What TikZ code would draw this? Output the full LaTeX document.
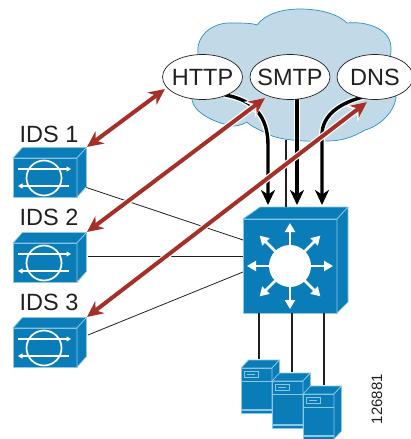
\documentclass[tikz,border=0pt]{standalone}
\usepackage{fontspec}
\setmainfont{Liberation Sans}
\usetikzlibrary{arrows.meta,shapes.geometric}
\definecolor{cisco}{HTML}{0A7DB8}
\definecolor{edgeblue}{HTML}{8CC8E6}
\definecolor{cloudfill}{HTML}{C2D9E7}
\definecolor{cloudline}{HTML}{2A92C6}
\definecolor{brick}{HTML}{A5302A}
\definecolor{ink}{HTML}{231F20}
\tikzset{
  x=1pt,y=-1pt,
  label/.style={font=\fontsize{23.5}{24}\selectfont,text=ink,inner sep=0pt},
  proto/.style={draw=ink,fill=white,ellipse,line width=.7pt,minimum width=80pt,minimum height=45pt,inner sep=-12pt,font=\fontsize{23.5}{24}\selectfont,text=ink},
  face/.style={fill=cisco,draw=edgeblue,line width=.7pt,line join=round},
  thinwire/.style={draw=ink,line width=.8pt},
  wire/.style={draw=ink,line width=1.8pt},
  halo/.style={draw=white,line width=6pt},
  bigblack/.style={draw=black,line width=3.4pt,-{Stealth[length=15pt,width=14pt,inset=4.5pt]}},
  redhalo/.style={draw=white,line width=6.5pt,{Stealth[length=19pt,width=19pt,inset=5pt]}-{Stealth[length=19pt,width=19pt,inset=5pt]}},
  redarrow/.style={draw=brick,line width=4pt,{Stealth[length=16pt,width=15pt,inset=5pt]}-{Stealth[length=16pt,width=15pt,inset=5pt]}},
  whiteline/.style={draw=white,line width=1.4pt},
  ar/.style={draw=white,line width=2.8pt,-{Triangle[length=9pt,width=10pt]}},
}
\newcommand{\idsbox}[3]{% name, x, y (front top-left)
  \node[face,anchor=north west,minimum width=64pt,minimum height=39pt,inner sep=0pt] (#1) at (#2,#3) {};
  \fill[cisco,draw=edgeblue,line width=.7pt,line join=round] (#2,#3) -- ++(9.5,-10.5) -- ++(64,0) -- ++(-9.5,10.5) -- cycle;
  \fill[cisco,draw=edgeblue,line width=.7pt,line join=round] (#2+64,#3) -- ++(9.5,-10.5) -- ++(0,39) -- ++(-9.5,10.5) -- cycle;
  \draw[draw=white,line width=1.7pt] (#2+31,#3+20) circle[radius=17.5pt];
  \draw[whiteline,-{Triangle[length=4.5pt,width=5pt]}] (#2+5,#3+11) -- (#2+58,#3+11);
  \draw[whiteline,-{Triangle[length=4.5pt,width=5pt]}] (#2+56,#3+28) -- (#2+5,#3+28);
}
\newcommand{\serverbox}[5]{% name x y w h
  \node[face,anchor=north west,minimum width=#4pt,minimum height=#5pt,inner sep=0pt] (#1) at (#2,#3) {};
  \fill[cisco,draw=edgeblue,line width=.7pt,line join=round] (#2,#3) -- ++(7.5,-8) -- ++(#4,0) -- ++(-7.5,8) -- cycle;
  \fill[cisco,draw=edgeblue,line width=.7pt,line join=round] (#2+#4,#3) -- ++(7.5,-8) -- ++(0,#5) -- ++(-7.5,8) -- cycle;
  \draw[draw=edgeblue,line width=1pt] (#2,#3+13) -- ++(#4,0);
  \draw[draw=edgeblue,line width=1.4pt] (#2,#3+#5-3) -- ++(#4,0);
  \draw[draw=edgeblue,line width=.9pt] (#2+3,#3+3) rectangle ++(14,6);
  \draw[draw=edgeblue,line width=.9pt] (#2+6,#3+6) -- ++(8,0);
}
\begin{document}
\begin{tikzpicture}
\useasboundingbox (0,0) rectangle (411,439);
% cloud
\path[fill=cloudfill,draw=cloudline,line width=.7pt]
  (198,53) .. controls (196,36) and (212,22) .. (232,23)
  .. controls (242,23) and (252,23) .. (257,25)
  .. controls (265,14) and (282,9) .. (300,9)
  .. controls (320,9) and (338,14) .. (347,23)
  .. controls (365,21) and (391,28) .. (391,48)
  .. controls (391,52) and (391,54) .. (390,56)
  -- (396,98)
  .. controls (394,112) and (380,126) .. (365,130)
  .. controls (352,138) and (340,141) .. (327,141)
  .. controls (305,142) and (278,140) .. (268,134)
  .. controls (260,130) and (250,126) .. (247,122)
  .. controls (240,126) and (236,126) .. (232,126)
  .. controls (212,122) and (194,112) .. (192,100)
  -- cycle;
% thin wires to IDS
\coordinate (s1) at (243,240);
\coordinate (s2) at (243,256);
\coordinate (s3) at (243,272);
\coordinate (i1) at (85,187);
\coordinate (i2) at (88,256);
\coordinate (i3) at (88,335);
\draw[thinwire] (i1) -- (s1);
\draw[thinwire] (i2) -- (s2);
\draw[thinwire] (i3) -- (s3);
% IDS devices
\node[label] (t1) at (49,134) {IDS 1};
\node[label] (t2) at (49,217) {IDS 2};
\node[label] (t3) at (49,302) {IDS 3};
\idsbox{ids1}{13}{158}
\idsbox{ids2}{13}{243}
\idsbox{ids3}{13}{328}
% switch
\node[face,anchor=north west,minimum width=94pt,minimum height=94pt,inner sep=0pt] (sw) at (243,219) {};
\fill[cisco,draw=edgeblue,line width=.7pt,line join=round] (243,219) -- (260,207) -- (348,207) -- (337,219) -- cycle;
\fill[cisco,draw=edgeblue,line width=.7pt,line join=round] (337,219) -- (348,207) -- (348,302) -- (337,313) -- cycle;
\coordinate (c) at (290,266);
\fill[white] (c) circle[radius=21pt];
\foreach \a in {0,45,...,315}{
  \draw[ar] (c) ++(\a:21) -- ++(\a:22);
}
% thin feed
\coordinate (cb) at (286,140);
\coordinate (st) at (286,207);
\draw[draw=ink,line width=1.3pt] (cb) -- (st);
% protocol arrows
\coordinate (hs) at (225,95);
\coordinate (ht) at (268,205);
\coordinate (ms) at (297,99);
\coordinate (mt) at (297,205);
\coordinate (ds) at (363,97);
\coordinate (dt) at (322,205);
\draw[halo] (hs) .. controls (255,100) and (268,118) .. (268,145) -- (268,170);
\draw[halo] (ds) .. controls (340,103) and (322,115) .. (322,135) -- (322,170);
\draw[bigblack] (hs) .. controls (255,100) and (268,118) .. (268,145) -- (ht);
\draw[halo] (ms) -- (297,170);
\draw[bigblack] (ms) -- (mt);
\draw[bigblack] (ds) .. controls (340,103) and (322,115) .. (322,135) -- (dt);
\node[proto] (http) at (202.5,77) {HTTP};
\node[proto] (smtp) at (290,77) {SMTP};
\node[proto,minimum width=76pt] (dns) at (375,77) {DNS};
% servers wires
\coordinate (a1) at (259,313);
\coordinate (a2) at (292,313);
\coordinate (a3) at (324,313);
\coordinate (b1) at (259,359);
\coordinate (b2) at (292,372);
\coordinate (b3) at (324,385);
\draw[wire] (a1) -- (b1);
\draw[wire] (a2) -- (b2);
\draw[wire] (a3) -- (b3);
\serverbox{srv1}{241}{368}{31}{45}
\serverbox{srv2}{272}{381}{31}{47}
\serverbox{srv3}{303}{394}{31}{45}
% red arrows
\coordinate (r1a) at (87,147);
\coordinate (r1b) at (165,89);
\coordinate (r2a) at (87,232);
\coordinate (r2b) at (265,98);
\coordinate (r3a) at (87,317);
\coordinate (r3b) at (367,102);
\foreach \p/\q in {r1a/r1b,r2a/r2b,r3a/r3b}{
  \draw[redhalo] (\p) -- (\q);
  \draw[redarrow] (\p) -- (\q);
}
\node[rotate=90,font=\fontsize{15}{15}\selectfont,text=ink,inner sep=0pt] (num) at (377,399) {126881};
\end{tikzpicture}
\end{document}
